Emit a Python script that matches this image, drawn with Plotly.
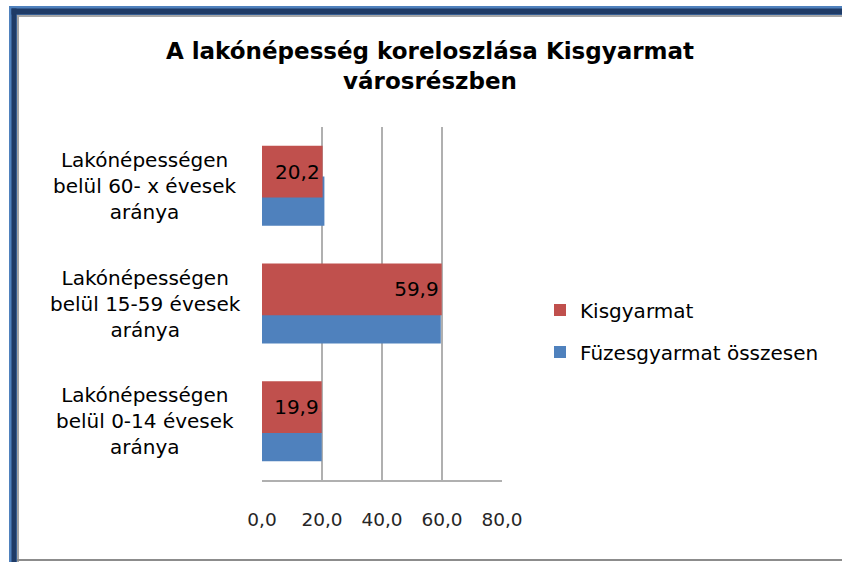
import plotly.graph_objects as go

# ---- data ----
categories = [
    "Lakónépességen<br>belül 0-14 évesek<br>aránya",
    "Lakónépességen<br>belül 15-59 évesek<br>aránya",
    "Lakónépességen<br>belül 60- x évesek<br>aránya",
]
kisgyarmat = [19.9, 59.9, 20.2]
fuzesgyarmat = [19.9, 59.6, 20.8]
series_names = ["Kisgyarmat", "Füzesgyarmat összesen"]
x_ticks = [0, 20, 40, 60, 80]
title_text = "A lakónépesség koreloszlása Kisgyarmat<br>városrészben"

RED = "#c0504d"
BLUE = "#4f81bd"
FONT = "DejaVu Sans"

W, H = 842, 562
ML, MR, MT, MB = 262, 340, 127, 82
PW, PH = W - ML - MR, H - MT - MB


def px(x):
    return (x - ML) / PW


def py(y):
    return (H - MB - y) / PH


fig = go.Figure()
fig.add_trace(go.Bar(
    y=categories, x=fuzesgyarmat, orientation="h", name=series_names[1],
    marker=dict(color=BLUE, line=dict(width=0)),
    offset=-0.34, width=0.42, legendgroup="b", legendrank=2,
    hoverinfo="x",
))
fig.add_trace(go.Bar(
    y=categories, x=kisgyarmat, orientation="h", name=series_names[0],
    marker=dict(color=RED, line=dict(width=0)),
    offset=-0.10, width=0.44, legendgroup="a", legendrank=1,
    texttemplate="%{x:.1f}", textposition="inside", insidetextanchor="end",
    textfont=dict(family=FONT, size=20, color="black"),
    constraintext="none",
))

annotations = []
for c in categories:
    annotations.append(dict(
        x=px(145), xref="paper", y=c, yref="y", text=c, showarrow=False,
        xanchor="center", yanchor="middle", align="center",
        font=dict(family=FONT, size=20, color="black"),
    ))

shapes = []
# frame
shapes.append(dict(type="rect", xref="paper", yref="paper",
                   x0=px(9), x1=px(17), y0=py(566), y1=py(6),
                   fillcolor="#4f81bd", line=dict(width=0), layer="above"))
shapes.append(dict(type="rect", xref="paper", yref="paper",
                   x0=px(9), x1=px(846), y0=py(15), y1=py(6),
                   fillcolor="#4f81bd", line=dict(width=0), layer="above"))
shapes.append(dict(type="rect", xref="paper", yref="paper",
                   x0=px(11.5), x1=px(16.5), y0=py(566), y1=py(8.5),
                   fillcolor="#1f3b66", line=dict(width=0), layer="above"))
shapes.append(dict(type="rect", xref="paper", yref="paper",
                   x0=px(11.5), x1=px(846), y0=py(14.5), y1=py(8.5),
                   fillcolor="#1f3b66", line=dict(width=0), layer="above"))
shapes.append(dict(type="rect", xref="paper", yref="paper",
                   x0=px(17), x1=px(19), y0=py(566), y1=py(15),
                   fillcolor="#a6a6a6", line=dict(width=0), layer="above"))
shapes.append(dict(type="rect", xref="paper", yref="paper",
                   x0=px(17), x1=px(846), y0=py(17), y1=py(15),
                   fillcolor="#a6a6a6", line=dict(width=0), layer="above"))
shapes.append(dict(type="rect", xref="paper", yref="paper",
                   x0=px(17), x1=px(846), y0=py(561), y1=py(559),
                   fillcolor="#8c8c8c", line=dict(width=0), layer="above"))

fig.update_layout(
    width=W, height=H,
    margin=dict(l=ML, r=MR, t=MT, b=MB, pad=0),
    paper_bgcolor="white", plot_bgcolor="white",
    separators=", ",
    barmode="overlay",
    title=dict(text=title_text, x=430 / W, xref="container", xanchor="center",
               y=1 - 59 / H, yref="container", yanchor="middle",
               font=dict(family=FONT, size=23, color="black", weight="bold")),
    xaxis=dict(range=[0, 80], tickvals=x_ticks, tickformat=".1f",
               showgrid=True, gridcolor="#b0b0b0", gridwidth=1.5,
               zeroline=False, showline=True, linecolor="#b0b0b0", linewidth=1.5,
               ticks="", ticklabelstandoff=22,
               tickfont=dict(family=FONT, size=18.5, color="#262626"),
               fixedrange=True),
    yaxis=dict(range=[-0.5, 2.5], showticklabels=False, showgrid=False,
               zeroline=False, showline=False, ticks="", fixedrange=True,
               type="category"),
    legend=dict(x=px(540), xanchor="left", y=py(331), yanchor="middle",
                traceorder="grouped", tracegroupgap=13,
                font=dict(family=FONT, size=20, color="black"),
                bgcolor="rgba(0,0,0,0)"),
    annotations=annotations,
    shapes=shapes,
    showlegend=True,
)

fig.write_html("out.html", config={"displayModeBar": False},
               post_script="document.body.style.margin='0';document.body.style.overflow='hidden';")
